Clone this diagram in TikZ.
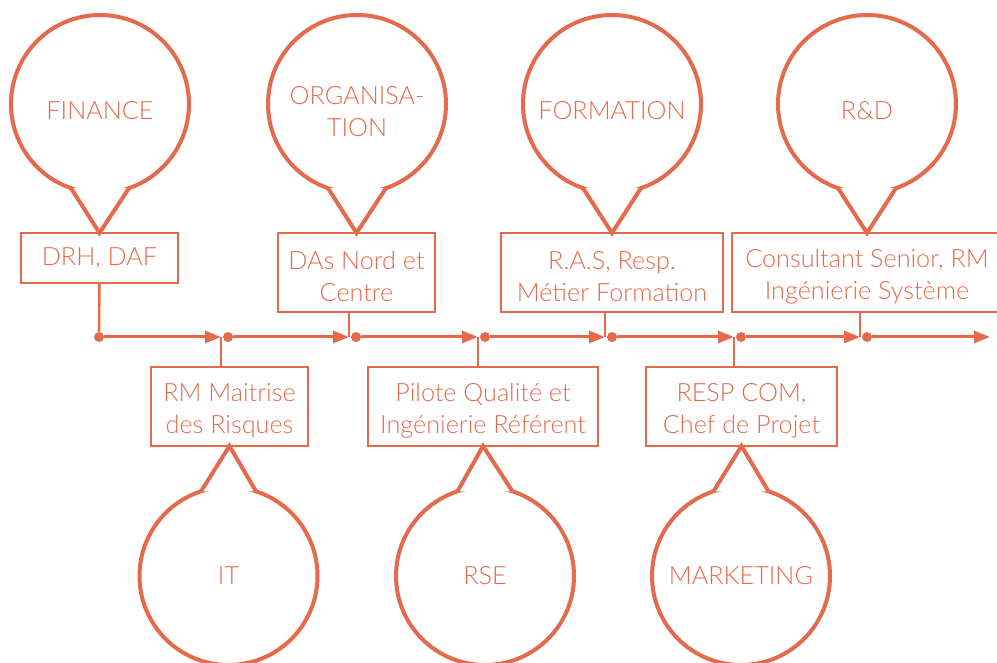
\documentclass[tikz,border=0pt]{standalone}
\usepackage{fontspec}
\setmainfont{Lato}[UprightFont=* Light]
\usepackage{tikz}
\usetikzlibrary{arrows.meta, positioning}
\usepackage{xcolor}
\definecolor{rouille}{RGB}{229,106,76}

\tikzset{
  poste/.style={draw=rouille, line width=1pt, text=rouille, align=center,
    font=\fontsize{12.6}{15.7}\selectfont, minimum height=25pt, inner sep=2pt,
    outer sep=0pt, anchor=north},
  deux/.style={minimum height=39.5pt, text height=29pt},
  bulle/.style={circle, draw=rouille, line width=2pt, text=rouille, align=center,
    font=\fontsize{12.6}{16}\selectfont, minimum size=89pt, inner sep=0pt, outer sep=0pt},
  haut/.style={text height=16pt},
  pointe/.style={draw=rouille, fill=white, line width=2pt},
  point/.style={circle, fill=rouille, inner sep=0pt, minimum size=5pt},
  axe/.style={draw=rouille, line width=1.5pt, -{Triangle[length=8pt, width=6pt]}},
  lien/.style={draw=rouille, line width=1.3pt}
}

\begin{document}
\begin{tikzpicture}[x=0.5pt, y=-0.5pt]
            \useasboundingbox (0,0) rectangle (997,663);

            \node[poste, minimum width=78.5pt] (drh) at (99.5,233) {DRH, DAF};
            \node[poste, deux, minimum width=78.5pt] (das) at (356.5,233) {DAs Nord et\\Centre};
            \node[poste, deux, minimum width=111pt] (ras) at (612,233) {R.A.S, Resp.\\Métier Formation};
            \node[poste, deux, minimum width=135pt] (consult) at (867,233) {Consultant Senior, RM\\Ingénierie Système};

            \node[poste, deux, minimum width=78.5pt] (rmm) at (229.5,367) {RM Maitrise\\des Risques};
            \node[poste, deux, minimum width=115pt] (pilote) at (483,367) {Pilote Qualité et\\Ingénierie Référent};
            \node[poste, deux, minimum width=95.5pt] (respcom) at (741.5,367) {RESP COM,\\Chef de Projet};

            \node[bulle, haut] (finance) at (100,104) {FINANCE};
            \node[bulle, text height=33pt] (orga) at (357,104) {ORGANISA-\\TION};
            \node[bulle, haut] (formation) at (612,104) {FORMATION};
            \node[bulle, haut] (rd) at (867,104) {R\&D};

            \node[bulle] (it) at (228.5,576) {IT};
            \node[bulle] (rse) at (485,576) {RSE};
            \node[bulle] (marketing) at (741,576) {MARKETING};

            \filldraw[pointe] (finance.251) -- (drh.north) -- (finance.289);
            \filldraw[pointe] (orga.251) -- (das.north) -- (orga.289);
            \filldraw[pointe] (formation.251) -- (ras.north) -- (formation.289);
            \filldraw[pointe] (rd.251) -- (consult.north) -- (rd.289);
            \filldraw[pointe] (it.108) -- (rmm.south) -- (it.72);
            \filldraw[pointe] (rse.108) -- (pilote.south) -- (rse.72);
            \filldraw[pointe] (marketing.108) -- (respcom.south) -- (marketing.72);

            \foreach \i/\x in {1/99,2/228,3/356,4/485,5/612,6/741,7/867} {
                \node[point] (d\i) at (\x,337) {};
                \coordinate (t\i) at (\x-7,337);
            }
            \coordinate (bout) at (990,337);

            \foreach \a/\b in {1/2,2/3,3/4,4/5,5/6,6/7}
                \draw[axe] (d\a) -- (t\b);
            \draw[axe] (d7) -- (bout);

            \draw[lien] (drh) -- (d1);
            \draw[lien] (rmm.north -| t2) -- (t2);
            \draw[lien] (das.south -| t3) -- (t3);
            \draw[lien] (pilote.north -| t4) -- (t4);
            \draw[lien] (ras.south -| t5) -- (t5);
            \draw[lien] (respcom.north -| t6) -- (t6);
            \draw[lien] (consult.south -| t7) -- (t7);
        \end{tikzpicture}
\end{document}
